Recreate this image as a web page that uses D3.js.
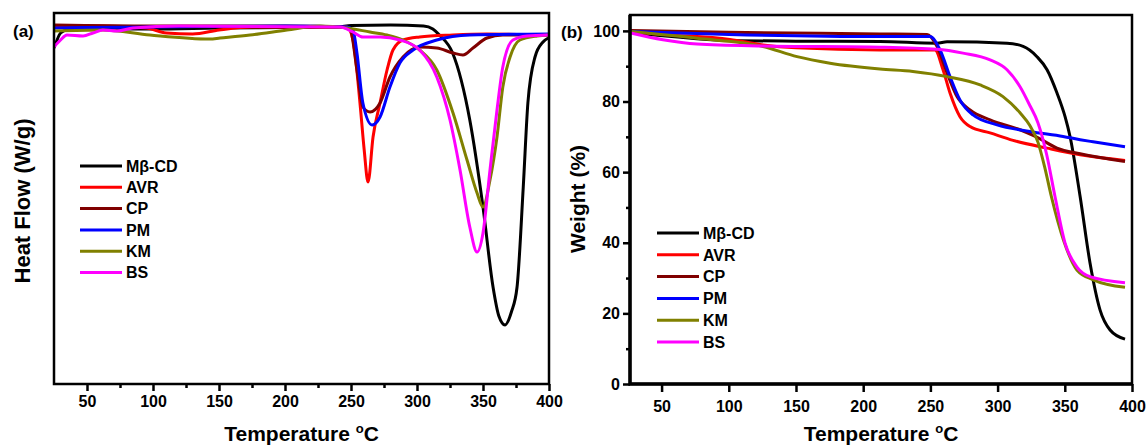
<!DOCTYPE html>
<html>
<head>
<meta charset="utf-8">
<script src="https://cdnjs.cloudflare.com/ajax/libs/d3/7.8.5/d3.min.js"></script>
<style>
  body { margin: 0; background: #fff; }
  svg text { font-family: "Liberation Sans", Arial, sans-serif; font-weight: bold; fill: #000; }
</style>
</head>
<body>
<div id="chart"></div>
<script>
var svgWidth = 1148;
var svgHeight = 447;

// series names and tick values
var seriesNames = ["Mβ-CD", "AVR", "CP", "PM", "KM", "BS"];
var tempTicks = [50, 100, 150, 200, 250, 300, 350, 400];
var tempMinorTicks = [75, 125, 175, 225, 275, 325, 375];
var weightTicks = [0, 20, 40, 60, 80, 100];
var weightMinorTicks = [10, 30, 50, 70, 90];

// (a) DSC heat flow, [temperature, heat flow (arbitrary offset)]
var dscMbcd = [[25, -0.20], [27, -0.13], [30, -0.05], [35, -0.02], [50, -0.01], [100, -0.01], [150, 0], [200, 0.005], [240, 0.01], [250, 0.025], [280, 0.03], [305, 0.02], [312, -0.01], [317, -0.07], [327, -0.25], [340, -0.92], [350, -1.79], [357.6, -2.59], [362, -2.88], [366.7, -2.97], [371.5, -2.84], [375.8, -2.59], [380.5, -1.59], [384, -0.75], [389.4, -0.29], [395.5, -0.14], [399.5, -0.10]];
var dscAvr = [[25, 0.02], [60, 0.02], [95, 0], [110, -0.05], [130, -0.06], [150, -0.02], [175, 0.01], [247, 0.01], [251.5, -0.12], [256.8, -0.75], [260, -1.22], [262.9, -1.54], [266.7, -1.09], [272, -0.75], [277.3, -0.42], [281.8, -0.22], [289.4, -0.12], [302, -0.09], [327, -0.07], [353, -0.06], [400, -0.07]];
var dscCp = [[25, 0.03], [100, 0.02], [200, 0.02], [245, 0.01], [249.5, -0.02], [254.5, -0.42], [259, -0.79], [264.4, -0.84], [272, -0.75], [279.5, -0.49], [289.4, -0.29], [302, -0.19], [315, -0.20], [327.3, -0.25], [334.8, -0.27], [342.4, -0.20], [353, -0.10], [365, -0.07], [400, -0.07]];
var dscPm = [[25, 0], [50, 0.005], [100, 0.01], [200, 0.02], [247, 0.01], [251.5, -0.02], [254.5, -0.25], [259, -0.75], [266, -0.97], [272, -0.89], [279.5, -0.59], [287, -0.35], [297, -0.22], [315, -0.12], [340, -0.07], [400, -0.06]];
var dscKm = [[25, -0.03], [62, -0.02], [97.7, -0.07], [143, -0.11], [150.8, -0.10], [173.5, -0.07], [201.5, -0.02], [226.5, 0.02], [247, 0], [264.4, -0.04], [277.3, -0.07], [289.4, -0.12], [302, -0.22], [315, -0.42], [327.3, -0.85], [337.9, -1.32], [345.5, -1.65], [350, -1.79], [355.3, -1.52], [360.6, -1.09], [365, -0.59], [370.5, -0.29], [378, -0.12], [391, -0.08], [400, -0.07]];
var dscBs = [[25, -0.19], [30, -0.12], [34.8, -0.07], [47, -0.08], [54.5, -0.05], [62, -0.02], [72.7, -0.03], [84.8, 0], [120, 0.02], [241.7, 0.01], [251.5, -0.04], [259, -0.09], [272, -0.09], [287, -0.12], [302, -0.22], [315, -0.49], [325, -0.92], [332.6, -1.42], [340, -1.99], [345.5, -2.24], [350, -2.05], [355.3, -1.42], [360.6, -0.82], [365, -0.39], [372.7, -0.12], [383.3, -0.08], [400, -0.07]];

// (b) TGA weight, [temperature, weight %]
var tgaMbcd = [[27, 99.6], [51, 98.6], [76, 97.8], [100.9, 97.3], [150, 97.1], [212.5, 97.0], [254.9, 96.5], [262.4, 96.9], [307, 96.5], [319, 95.6], [329.3, 92.7], [336.8, 89.0], [344.2, 82.4], [350.2, 75.7], [353.9, 70.1], [361.4, 53.1], [368.8, 34.2], [376.2, 21.0], [383.7, 15.3], [394.8, 12.7]];
var tgaAvr = [[27, 99.8], [51, 99.0], [100.9, 97.6], [125.5, 96.0], [150, 95.2], [212.5, 94.6], [253.4, 94.6], [259.4, 89.0], [264.6, 82.4], [272, 75.7], [279.5, 72.9], [294.4, 71.1], [311.5, 69.0], [336.8, 66.8], [361.4, 64.9], [394.8, 63.3]];
var tgaCp = [[27, 100.1], [100, 99.6], [212.5, 99.15], [247.5, 99.0], [254.9, 95.6], [262.4, 88.1], [269.8, 81.4], [279.5, 77.6], [294.4, 74.8], [316.7, 72.0], [326.4, 70.4], [331.6, 69.4], [344.2, 66.8], [361.4, 65.2], [394.8, 63.0]];
var tgaPm = [[27, 99.8], [100, 99.0], [212.5, 98.4], [249.7, 98.4], [257.2, 94.6], [264.6, 87.05], [272, 80.45], [281.7, 76.2], [299.6, 73.4], [324, 71.5], [348.7, 70.1], [361.4, 69.2], [371, 68.6], [394.8, 67.2]];
var tgaKm = [[27, 99.8], [76.4, 97.9], [125.5, 95.6], [150.8, 92.7], [175.3, 90.85], [212.5, 89.2], [237, 88.5], [262.4, 87.05], [287, 84.7], [304, 81.4], [316.7, 76.8], [324, 73.2], [330, 68.5], [335, 61.5], [340, 53.1], [349, 40.8], [359, 32.3], [371.2, 29.5], [394.8, 27.4]];
var tgaBs = [[27, 99.4], [51, 97.5], [76.4, 96.3], [125.5, 95.75], [212.5, 95.4], [254.9, 94.8], [274.3, 93.7], [294.4, 91.8], [307, 89.0], [316.7, 84.2], [324.1, 78.8], [330, 74.0], [336.5, 65.0], [342.7, 53.1], [350.2, 39.9], [358.9, 33.2], [368.8, 30.4], [394.8, 28.7]];

var dscSeries = [dscMbcd, dscAvr, dscCp, dscPm, dscKm, dscBs];
var tgaSeries = [tgaMbcd, tgaAvr, tgaCp, tgaPm, tgaKm, tgaBs];
var lineColors = ["#000000", "#ff0000", "#800000", "#0000ff", "#808000", "#ff00ff"];

var svg = d3.select("#chart")
  .append("svg")
  .attr("width", svgWidth)
  .attr("height", svgHeight);

// panel boxes
var boxA = {left: 54, right: 549, top: 13, bottom: 384};
var boxB = {left: 630, right: 1132, top: 15, bottom: 384};

var xA = d3.scaleLinear().domain([25, 400]).range([boxA.left, boxA.right]);
var yA = d3.scaleLinear().domain([-3.56, 0.15]).range([boxA.bottom, boxA.top]);
var xB = d3.scaleLinear().domain([26.5, 400]).range([boxB.left, boxB.right]);
var yB = d3.scaleLinear().domain([0, 104.5]).range([boxB.bottom, boxB.top]);

var defs = svg.append("defs");
defs.append("clipPath").attr("id", "clipA").append("rect")
  .attr("x", boxA.left).attr("y", boxA.top)
  .attr("width", boxA.right - boxA.left).attr("height", boxA.bottom - boxA.top);
defs.append("clipPath").attr("id", "clipB").append("rect")
  .attr("x", boxB.left).attr("y", boxB.top)
  .attr("width", boxB.right - boxB.left).attr("height", boxB.bottom - boxB.top);

function styleAxis(g) {
  g.select(".domain").remove();
  g.selectAll(".tick line").attr("stroke", "#000").attr("stroke-width", 2.5);
  g.selectAll(".tick text").style("font-size", "16px");
}

// ---- panel (a) ----
var lineA = d3.line()
  .x(d => xA(d[0]))
  .y(d => yA(d[1]))
  .curve(d3.curveMonotoneX);

svg.append("g")
  .attr("clip-path", "url(#clipA)")
  .selectAll("path")
  .data(dscSeries)
  .enter()
  .append("path")
  .attr("d", lineA)
  .attr("fill", "none")
  .attr("stroke", (d, i) => lineColors[i])
  .attr("stroke-width", 3);

svg.append("g")
  .attr("transform", `translate(0, ${boxA.bottom})`)
  .call(d3.axisBottom(xA).tickValues(tempMinorTicks).tickSize(4).tickFormat(""))
  .call(styleAxis);

svg.append("g")
  .attr("transform", `translate(0, ${boxA.bottom})`)
  .call(d3.axisBottom(xA).tickValues(tempTicks).tickSize(7).tickPadding(5))
  .call(styleAxis);

svg.append("rect")
  .attr("x", boxA.left).attr("y", boxA.top)
  .attr("width", boxA.right - boxA.left).attr("height", boxA.bottom - boxA.top)
  .attr("fill", "none").attr("stroke", "#000").attr("stroke-width", 2.5);

// ---- panel (b) ----
var lineB = d3.line()
  .x(d => xB(d[0]))
  .y(d => yB(d[1]))
  .curve(d3.curveMonotoneX);

svg.append("g")
  .attr("clip-path", "url(#clipB)")
  .selectAll("path")
  .data(tgaSeries)
  .enter()
  .append("path")
  .attr("d", lineB)
  .attr("fill", "none")
  .attr("stroke", (d, i) => lineColors[i])
  .attr("stroke-width", 3);

svg.append("g")
  .attr("transform", `translate(0, ${boxB.bottom})`)
  .call(d3.axisBottom(xB).tickValues(tempTicks).tickSize(8).tickPadding(9))
  .call(styleAxis);

svg.append("g")
  .attr("transform", `translate(${boxB.left}, 0)`)
  .call(d3.axisLeft(yB).tickValues(weightMinorTicks).tickSize(4).tickFormat(""))
  .call(styleAxis);

svg.append("g")
  .attr("transform", `translate(${boxB.left}, 0)`)
  .call(d3.axisLeft(yB).tickValues(weightTicks).tickSize(7).tickPadding(3))
  .call(styleAxis);

svg.append("rect")
  .attr("x", boxB.left).attr("y", boxB.top)
  .attr("width", boxB.right - boxB.left).attr("height", boxB.bottom - boxB.top)
  .attr("fill", "none").attr("stroke", "#000").attr("stroke-width", 2.5);

// thicker left and bottom axis lines
svg.append("path")
  .attr("d", `M${boxB.left},${boxB.top}V${boxB.bottom}H${boxB.right}`)
  .attr("fill", "none").attr("stroke", "#000").attr("stroke-width", 3.5);

// ---- legends ----
function drawLegend(x0, y0, step) {
  var legend = svg.append("g");
  seriesNames.forEach(function(name, i) {
    var y = y0 + i * step;
    legend.append("line")
      .attr("x1", x0).attr("x2", x0 + 42)
      .attr("y1", y).attr("y2", y)
      .attr("stroke", lineColors[i])
      .attr("stroke-width", 3);
    legend.append("text")
      .attr("x", x0 + 46)
      .attr("y", y)
      .attr("dy", "0.36em")
      .style("font-size", "16px")
      .text(name);
  });
}
drawLegend(80, 166, 21.3);
drawLegend(657, 233, 21.8);

// ---- titles ----
function tempTitle(cx) {
  var t = svg.append("text")
    .attr("x", cx)
    .attr("y", 441)
    .attr("text-anchor", "middle")
    .style("font-size", "21px");
  t.append("tspan").text("Temperature ");
  t.append("tspan").attr("dy", -8).style("font-size", "13px").text("o");
  t.append("tspan").attr("dy", 8).text("C");
}
tempTitle((boxA.left + boxA.right) / 2);
tempTitle((boxB.left + boxB.right) / 2);

svg.append("text")
  .attr("transform", `translate(30, 201) rotate(-90)`)
  .attr("text-anchor", "middle")
  .style("font-size", "22px")
  .text("Heat Flow (W/g)");

svg.append("text")
  .attr("transform", `translate(585, 199) rotate(-90)`)
  .attr("text-anchor", "middle")
  .style("font-size", "21px")
  .text("Weight (%)");

svg.append("text")
  .attr("x", 13).attr("y", 37)
  .style("font-size", "17px")
  .text("(a)");

svg.append("text")
  .attr("x", 561).attr("y", 38)
  .style("font-size", "17px")
  .text("(b)");
</script>
</body>
</html>
